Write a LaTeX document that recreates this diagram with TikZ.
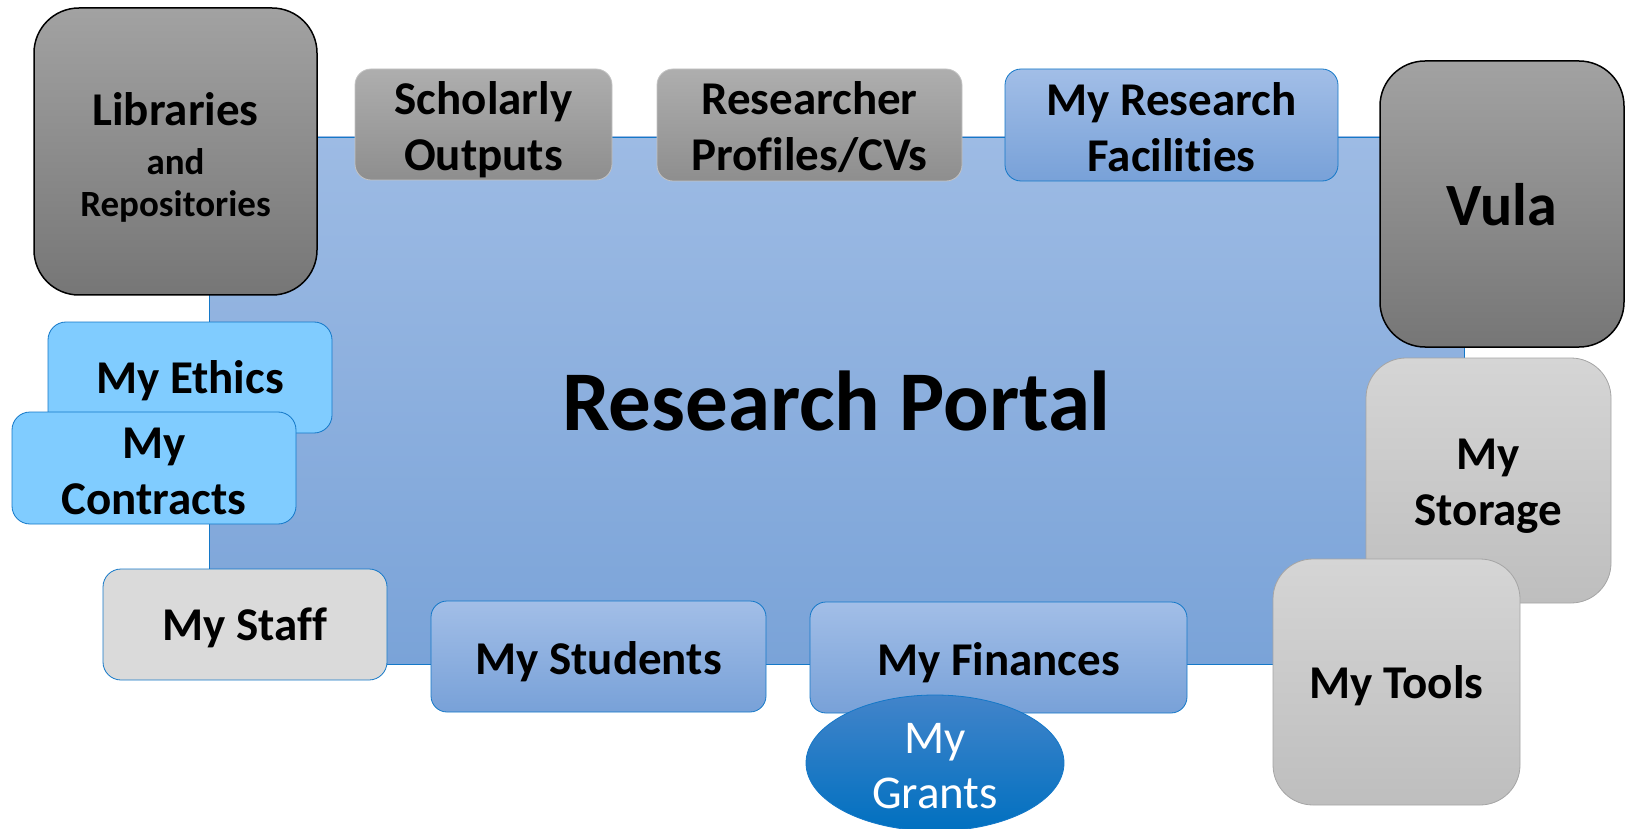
\documentclass[tikz,border=0pt]{standalone}
\usepackage{fontspec}
\setmainfont{Carlito}[Ligatures=CommonOff]
\usetikzlibrary{shapes.geometric}
\definecolor{portalTop}{RGB}{157,187,228}
\definecolor{portalBot}{RGB}{122,163,216}
\definecolor{edgeBlue}{RGB}{20,120,200}
\definecolor{dkTop}{RGB}{162,162,162}
\definecolor{dkBot}{RGB}{118,118,118}
\definecolor{gyTop}{RGB}{174,174,174}
\definecolor{gyBot}{RGB}{142,142,142}
\definecolor{gyEdge}{RGB}{195,195,195}
\definecolor{blTop}{RGB}{162,190,231}
\definecolor{blBot}{RGB}{120,161,216}
\definecolor{ltBlue}{RGB}{128,204,255}
\definecolor{staffGray}{RGB}{218,218,218}
\definecolor{svTop}{RGB}{213,213,213}
\definecolor{svBot}{RGB}{190,190,190}
\definecolor{svEdge}{RGB}{165,165,165}
\definecolor{grTop}{RGB}{66,132,202}
\definecolor{grBot}{RGB}{0,112,192}
\tikzset{
  basebox/.style={inner sep=0pt, outer sep=0pt, align=center,
    font=\fontsize{47}{56}\selectfont\bfseries},
  txt/.style={inner sep=0pt, outer sep=0pt, align=center,
    font=\fontsize{47}{56}\selectfont\bfseries},
  portalbox/.style={basebox, draw=edgeBlue, line width=0.8pt,
    top color=portalTop, bottom color=portalBot,
    font=\fontsize{85}{100}\selectfont\bfseries},
  darkbox/.style={basebox, draw=black, line width=1.5pt, rounded corners=45pt,
    top color=dkTop, bottom color=dkBot},
  graybox/.style={basebox, draw=gyEdge, line width=0.8pt, rounded corners=16pt,
    top color=gyTop, bottom color=gyBot},
  bluebox/.style={basebox, draw=edgeBlue, line width=0.8pt, rounded corners=16pt,
    top color=blTop, bottom color=blBot},
  ltbox/.style={basebox, draw=edgeBlue, line width=0.8pt, rounded corners=18pt,
    fill=ltBlue},
  staffbox/.style={basebox, draw=edgeBlue, line width=0.8pt, rounded corners=18pt,
    fill=staffGray},
  silverbox/.style={basebox, draw=svEdge, line width=0.8pt, rounded corners=40pt,
    top color=svTop, bottom color=svBot},
  grantbox/.style={basebox, ellipse, draw=edgeBlue, line width=0.8pt,
    top color=grTop, bottom color=grBot},
}
\begin{document}
\begin{tikzpicture}[x=1pt,y=-1pt]
\useasboundingbox (0,0) rectangle (1626,829);
\node[portalbox, minimum width=1255pt, minimum height=527pt, text depth=0pt] (portal) at (836.5,400.5) {Research Portal};
% top row
\node[darkbox, minimum width=283pt, minimum height=287pt] (libs) at (175.5,151.5) {};
\node[txt] (libs-t) at ([yshift=-6pt]libs.center)
  {Libraries\\[-7pt]{\fontsize{37}{44}\selectfont and}\\[-14pt]{\fontsize{37}{44}\selectfont Repositories}};
\node[graybox, minimum width=257pt, minimum height=111pt] (schol) at (483.5,124.5) {};
\node[txt] (schol-t) at ([yshift=-5pt]schol.center) {Scholarly\\Outputs};
\node[graybox, minimum width=305pt, minimum height=112pt] (profiles) at (809.5,125) {};
\node[txt] (profiles-t) at ([yshift=-2.5pt]profiles.center) {Researcher\\Profiles/CVs};
\node[bluebox, minimum width=333pt, minimum height=112pt] (facil) at (1171.5,125) {};
\node[txt] (facil-t) at ([yshift=-2pt]facil.center) {My Research\\Facilities};
\node[darkbox, minimum width=244pt, minimum height=286pt, text depth=0pt,
  font=\fontsize{60}{72}\selectfont\bfseries] (vula) at (1502,204) {Vula};
% left column
\node[ltbox, minimum width=284pt, minimum height=111pt, text depth=0pt] (ethics) at (190,377.5) {My Ethics};
\node[ltbox, minimum width=284pt, minimum height=112pt] (contracts) at (154,468) {};
\node[txt] (contracts-t) at ([yshift=-3pt]contracts.center) {My\\Contracts};
\node[staffbox, minimum width=284pt, minimum height=111pt, text depth=0pt] (staff) at (245,624.5) {My Staff};
% bottom row
\node[bluebox, minimum width=335pt, minimum height=111pt] (students) at (598.5,656.5) {};
\node[txt, text depth=0pt] (students-t) at ([yshift=-1.5pt]students.center) {My Students};
\node[bluebox, minimum width=377pt, minimum height=111pt] (finances) at (998.5,657.5) {};
\node[txt, text depth=0pt] (finances-t) at ([yshift=-1.5pt]finances.center) {My Finances};
\node[grantbox, minimum width=258pt, minimum height=136pt] (grants) at (935,763) {};
\node[txt, text=white, font=\fontsize{47}{55}\selectfont] (grants-t) at ([yshift=-3pt]grants.center) {My\\Grants};
% right column
\node[silverbox, minimum width=245pt, minimum height=245pt] (storage) at (1488.5,480.5) {};
\node[txt] (storage-t) at ([yshift=-6pt]storage.center) {My\\Storage};
\node[silverbox, minimum width=247pt, minimum height=246pt, text depth=0pt] (tools) at (1396.5,682) {My Tools};
\end{tikzpicture}
\end{document}
